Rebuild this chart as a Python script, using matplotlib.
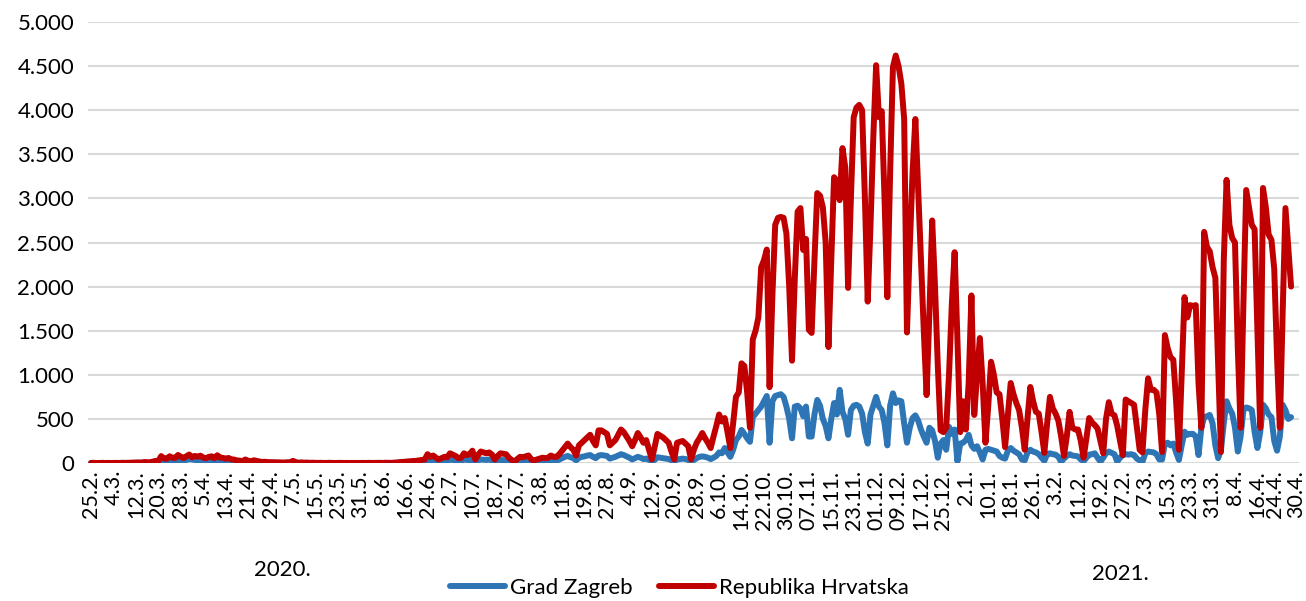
import numpy as np
import matplotlib
matplotlib.use('Agg')
import matplotlib.pyplot as plt
import matplotlib.transforms as mtransforms
from matplotlib.ticker import FuncFormatter

# --- Data: daily new cases, 25.2.2020 - 28.4.2021 ---
hrvatska = (
    [1, 2, 0, 0, 2] +  # feb 2020
    [0, 1, 0, 1, 1, 0, 2, 1, 2, 3, 3, 5, 6, 5, 11, 8, 8, 16, 24, 23,
     78, 52, 48, 76, 60, 58, 91, 71, 56, 77, 96] +  # mar
    [65, 80, 72, 83, 61, 55, 69, 76, 54, 88, 62, 58, 49, 57, 42, 39, 29, 27, 20, 40,
     26, 14, 31, 25, 18, 11, 14, 10, 9, 8] +  # apr
    [8, 7, 4, 5, 8, 6, 25, 9, 4, 6, 3, 5, 2, 3, 2, 1, 2, 0, 1, 2,
     1, 0, 1, 2, 0, 1, 0, 1, 0, 1, 0] +  # may
    [1, 0, 2, 0, 1, 1, 2, 0, 3, 2, 1, 4, 5, 10, 12, 14, 18, 20, 22, 25,
     30, 35, 40, 100, 70, 85, 60, 40, 55, 70] +  # jun
    [65, 110, 95, 80, 55, 60, 110, 90, 100, 140, 40, 90, 130, 120, 110, 120, 95, 40, 80, 110,
     105, 100, 60, 35, 15, 45, 70, 65, 75, 85, 40] +  # jul
    [30, 40, 50, 60, 55, 60, 85, 70, 70, 100, 140, 180, 220, 180, 150, 85, 200, 230, 260, 290,
     320, 250, 200, 370, 370, 350, 330, 200, 230, 260, 320] +  # aug
    [380, 350, 300, 250, 190, 260, 340, 290, 230, 260, 150, 40, 180, 330, 310, 290, 260, 230, 130, 40,
     230, 240, 250, 220, 190, 40, 150, 230, 280, 340] +  # sep
    [280, 230, 170, 300, 420, 550, 470, 510, 350, 170, 450, 750, 800, 1130, 1100, 800, 400, 1400, 1500, 1650,
     2220, 2300, 2420, 860, 1900, 2700, 2780, 2790, 2780, 2600, 2000] +  # oct
    [1160, 2100, 2850, 2890, 2415, 2540, 1510, 1475, 2300, 3060, 3030, 2900, 2500, 1315, 2300, 3240, 3200, 2980, 3570, 3350,
     1985, 3000, 3920, 4030, 4060, 4000, 3000, 1830, 2700, 3700] +  # nov
    [4510, 3920, 3990, 3000, 1880, 3300, 4490, 4620, 4500, 4300, 3900, 1480, 2450, 3300, 3900, 3100, 2300, 1500, 770, 1700,
     2750, 2000, 1100, 370, 350, 400, 1000, 1800, 2390, 1400, 350] +  # dec
    [700, 380, 900, 1900, 545, 1000, 1417, 900, 230, 650, 1148, 1000, 800, 780, 500, 180, 550, 907, 780, 680,
     600, 400, 150, 500, 862, 700, 580, 560, 350, 115, 450] +  # jan 2021
    [750, 620, 560, 480, 300, 80, 300, 580, 400, 380, 380, 250, 60, 280, 510, 460, 430, 390, 250, 110,
     500, 690, 560, 540, 420, 250, 90, 720] +  # feb
    [700, 680, 660, 400, 150, 120, 600, 960, 830, 830, 800, 550, 125, 1450, 1300, 1200, 1170, 700, 150, 1000,
     1880, 1650, 1790, 1780, 1790, 900, 400, 2620, 2450, 2400, 2220] +  # mar
    [2100, 1100, 125, 2300, 3210, 2700, 2550, 2500, 1300, 400, 1800, 3095, 2900, 2700, 2650, 1500, 400, 3118, 2900, 2590,
     2530, 2200, 1200, 400, 1700, 2890, 2450, 2000]  # apr
)

zagreb = (
    [1, 0, 0, 0, 1] +  # feb 2020
    [0, 0, 0, 1, 0, 0, 1, 0, 1, 1, 2, 2, 3, 2, 4, 3, 3, 8, 10, 12,
     30, 25, 20, 35, 28, 25, 40, 30, 22, 35, 45] +  # mar
    [40, 35, 30, 38, 25, 20, 30, 35, 22, 40, 28, 25, 20, 22, 18, 15, 12, 10, 8, 15,
     10, 6, 12, 10, 7, 5, 6, 4, 4, 3] +  # apr
    [3, 2, 1, 2, 3, 2, 8, 3, 1, 2, 1, 1, 0, 1, 0, 0, 1, 0, 0, 1,
     0, 0, 0, 1, 0, 0, 0, 0, 1, 0, 0] +  # may
    [0, 0, 1, 0, 0, 0, 1, 0, 1, 0, 0, 1, 2, 3, 4, 5, 5, 6, 8, 10,
     12, 15, 20, 40, 30, 35, 25, 15, 20, 30] +  # jun
    [25, 40, 35, 30, 20, 22, 40, 35, 30, 45, 15, 30, 40, 38, 35, 40, 30, 12, 25, 35,
     32, 30, 20, 12, 5, 15, 22, 20, 25, 28, 12] +  # jul
    [10, 15, 18, 20, 18, 22, 30, 25, 25, 40, 55, 70, 80, 65, 55, 30, 60, 70, 75, 85,
     90, 70, 55, 85, 90, 85, 80, 50, 60, 70, 85] +  # aug
    [100, 90, 75, 60, 40, 55, 70, 60, 45, 50, 35, 15, 35, 65, 60, 55, 50, 45, 30, 15,
     40, 45, 50, 45, 35, 15, 35, 55, 70, 75] +  # sep
    [70, 60, 45, 60, 80, 120, 110, 170, 120, 70, 150, 260, 300, 375, 330, 280, 240, 520, 560, 600,
     640, 700, 760, 230, 700, 760, 770, 780, 750, 640, 500] +  # oct
    [280, 640, 650, 620, 530, 640, 300, 300, 550, 715, 650, 500, 420, 280, 500, 680, 550, 830, 580, 500,
     320, 600, 650, 660, 640, 560, 350, 220, 550, 650] +  # nov
    [750, 640, 600, 450, 200, 650, 790, 680, 710, 700, 450, 230, 400, 510, 540, 480, 380, 300, 230, 400,
     370, 250, 60, 220, 260, 150, 410, 330, 380, 20, 220] +  # dec
    [230, 260, 320, 200, 160, 190, 120, 40, 150, 160, 150, 140, 130, 80, 60, 50, 140, 170, 140, 120,
     100, 40, 30, 120, 150, 130, 120, 100, 60, 25, 100] +  # jan 2021
    [110, 100, 95, 70, 15, 50, 80, 100, 85, 80, 75, 40, 20, 60, 95, 100, 110, 60, 15, 60,
     110, 130, 115, 100, 15, 60, 90, 100] +  # feb
    [95, 100, 90, 50, 30, 15, 110, 130, 125, 120, 100, 40, 40, 220, 230, 200, 220, 120, 35, 200,
     355, 320, 330, 330, 300, 90, 400, 520, 530, 545, 450] +  # mar
    [200, 55, 150, 450, 700, 620, 560, 400, 130, 300, 600, 630, 620, 600, 350, 170, 350, 660, 620, 550,
     520, 250, 140, 300, 660, 600, 500, 520]  # apr
)

date_labels = ["25.2.", "4.3.", "12.3.", "20.3.", "28.3.", "5.4.", "13.4.", "21.4.", "29.4.",
               "7.5.", "15.5.", "23.5.", "31.5.", "8.6.", "16.6.", "24.6.", "2.7.", "10.7.",
               "18.7.", "26.7.", "3.8.", "11.8.", "19.8.", "27.8.", "4.9.", "12.9.", "20.9.",
               "28.9.", "6.10.", "14.10.", "22.10.", "30.10.", "07.11.", "15.11.", "23.11.",
               "01.12.", "09.12.", "17.12.", "25.12.", "2.1.", "10.1.", "18.1.", "26.1.",
               "3.2.", "11.2.", "19.2.", "27.2.", "7.3.", "15.3.", "23.3.", "31.3.", "8.4.",
               "16.4.", "24.4.", "30.4."]
last_label_day = 430  # 30.4.2021, days after 25.2.2020
year_labels = ["2020.", "2021."]
series_names = ["Grad Zagreb", "Republika Hrvatska"]

# --- Style ---
BLUE = '#2E75B6'
RED = '#C00000'
GRID = '#D9D9D9'
FONT = 'Lato'
FS = 16
LW = 4.3

plt.rcParams['font.family'] = [FONT, 'DejaVu Sans']


def thousands(v, pos):
    return f"{int(v):,}".replace(",", ".")


fig = plt.figure(figsize=(13.06, 6.01), dpi=100)
ax = fig.add_axes([0.0674, 0.2296, 0.9276, 0.7338])

days = np.arange(len(hrvatska))
ax.plot(days, zagreb, color=BLUE, lw=LW, solid_joinstyle='round',
        solid_capstyle='round', label=series_names[0], zorder=3)
ax.plot(days, hrvatska, color=RED, lw=LW, solid_joinstyle='round',
        solid_capstyle='round', label=series_names[1], zorder=4)

ax.set_ylim(0, 5000)
ax.set_xlim(-1.1, 431)
ax.set_yticks(np.arange(0, 5001, 500))
ax.yaxis.set_major_formatter(FuncFormatter(thousands))
ax.grid(axis='y', color=GRID, lw=1.5)
ax.set_axisbelow(True)

ticks = list(range(0, 8 * (len(date_labels) - 1), 8)) + [last_label_day]
ax.set_xticks(ticks)
ax.set_xticklabels(date_labels, rotation=90, va='top', ha='center')

ax.tick_params(axis='both', length=0, colors='black')
ax.tick_params(axis='y', pad=10, labelsize=FS)
ax.tick_params(axis='x', pad=5, labelsize=15.5)
for spine in ax.spines.values():
    spine.set_visible(False)

# the last two date labels sit very close together (and at the right edge)
xlabels = ax.get_xticklabels()
xlabels[-2].set_transform(xlabels[-2].get_transform() +
                          mtransforms.ScaledTranslation(-5 / 100, 0, fig.dpi_scale_trans))
xlabels[-1].set_transform(xlabels[-1].get_transform() +
                          mtransforms.ScaledTranslation(-1 / 100, 0, fig.dpi_scale_trans))

fig.text(0.216, 0.052, year_labels[0], ha='center', va='center', fontsize=FS)
fig.text(0.858, 0.045, year_labels[1], ha='center', va='center', fontsize=FS)

fig.legend(loc='center', bbox_to_anchor=(0.52, 0.022), ncol=2, frameon=False,
           fontsize=FS, handlelength=2.5, handletextpad=0.2, columnspacing=1.2)

plt.savefig('out.png', dpi=100, facecolor='white')
plt.close()
